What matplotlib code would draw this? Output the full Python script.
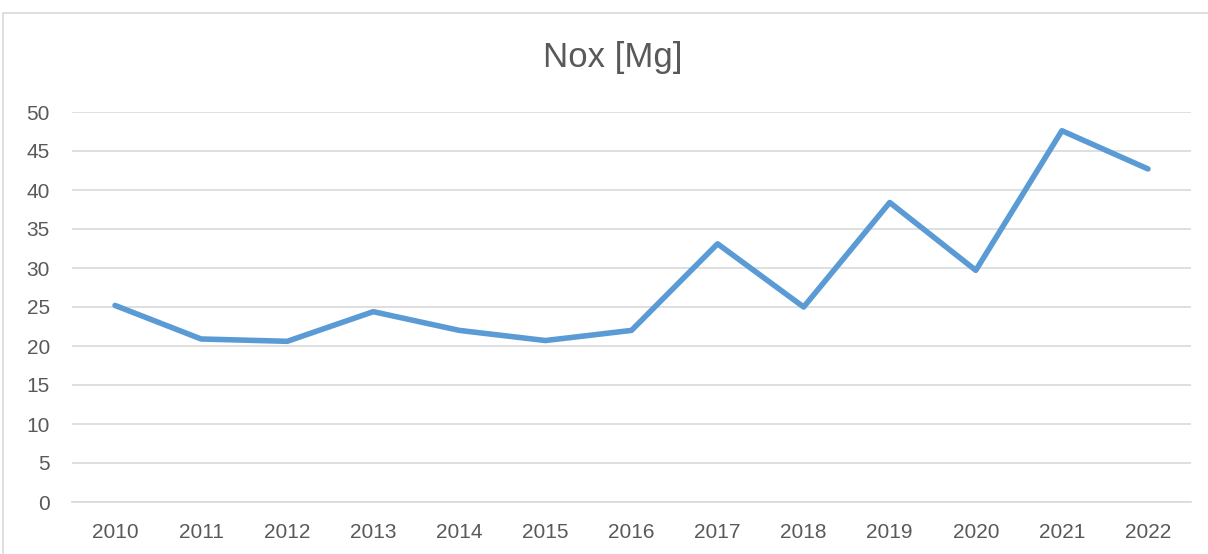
import matplotlib
matplotlib.use("Agg")
import matplotlib.pyplot as plt
from matplotlib.patches import Rectangle

years = ["2010", "2011", "2012", "2013", "2014", "2015", "2016",
         "2017", "2018", "2019", "2020", "2021", "2022"]
nox = [25.2, 20.9, 20.6, 24.4, 22.0, 20.7, 22.0,
       33.1, 25.0, 38.4, 29.7, 47.6, 42.7]
y_ticks = list(range(0, 51, 5))

plt.rcParams["font.family"] = ["Liberation Sans", "DejaVu Sans"]
text_color = "#595959"
grid_color = "#D9D9D9"

fig = plt.figure(figsize=(12.08, 5.54), dpi=100)
# chart-area border (runs off the right and bottom edges)
fig.patches.append(Rectangle((3 / 1208, -0.2), 1.2, 1.2 - 13 / 554,
                             transform=fig.transFigure, fill=False,
                             edgecolor=grid_color, linewidth=1.2))

ax = fig.add_axes([72 / 1208, 1 - 502 / 554, (1191 - 72) / 1208, (502 - 112) / 554])
x = list(range(len(years)))
ax.plot(x, nox, color="#5B9BD5", linewidth=4.0, solid_joinstyle="round",
        solid_capstyle="round", zorder=3)

ax.set_xlim(-0.5, len(years) - 0.5)
ax.set_ylim(0, 50)
ax.set_yticks(y_ticks)
ax.set_xticks(x)
ax.set_xticklabels(years)
ax.grid(axis="y", color=grid_color, linewidth=1.2)
ax.set_axisbelow(True)
for s in ("top", "right", "left"):
    ax.spines[s].set_visible(False)
ax.spines["bottom"].set_color(grid_color)
ax.spines["bottom"].set_linewidth(1.2)
ax.tick_params(axis="both", length=0, colors=text_color, labelsize=15)
ax.tick_params(axis="y", pad=16)
ax.tick_params(axis="x", pad=15)

fig.text(613 / 1208, 1 - 58 / 554, "Nox [Mg]", ha="center", va="center",
         fontsize=25, color=text_color)

fig.savefig("out.png", dpi=100)
